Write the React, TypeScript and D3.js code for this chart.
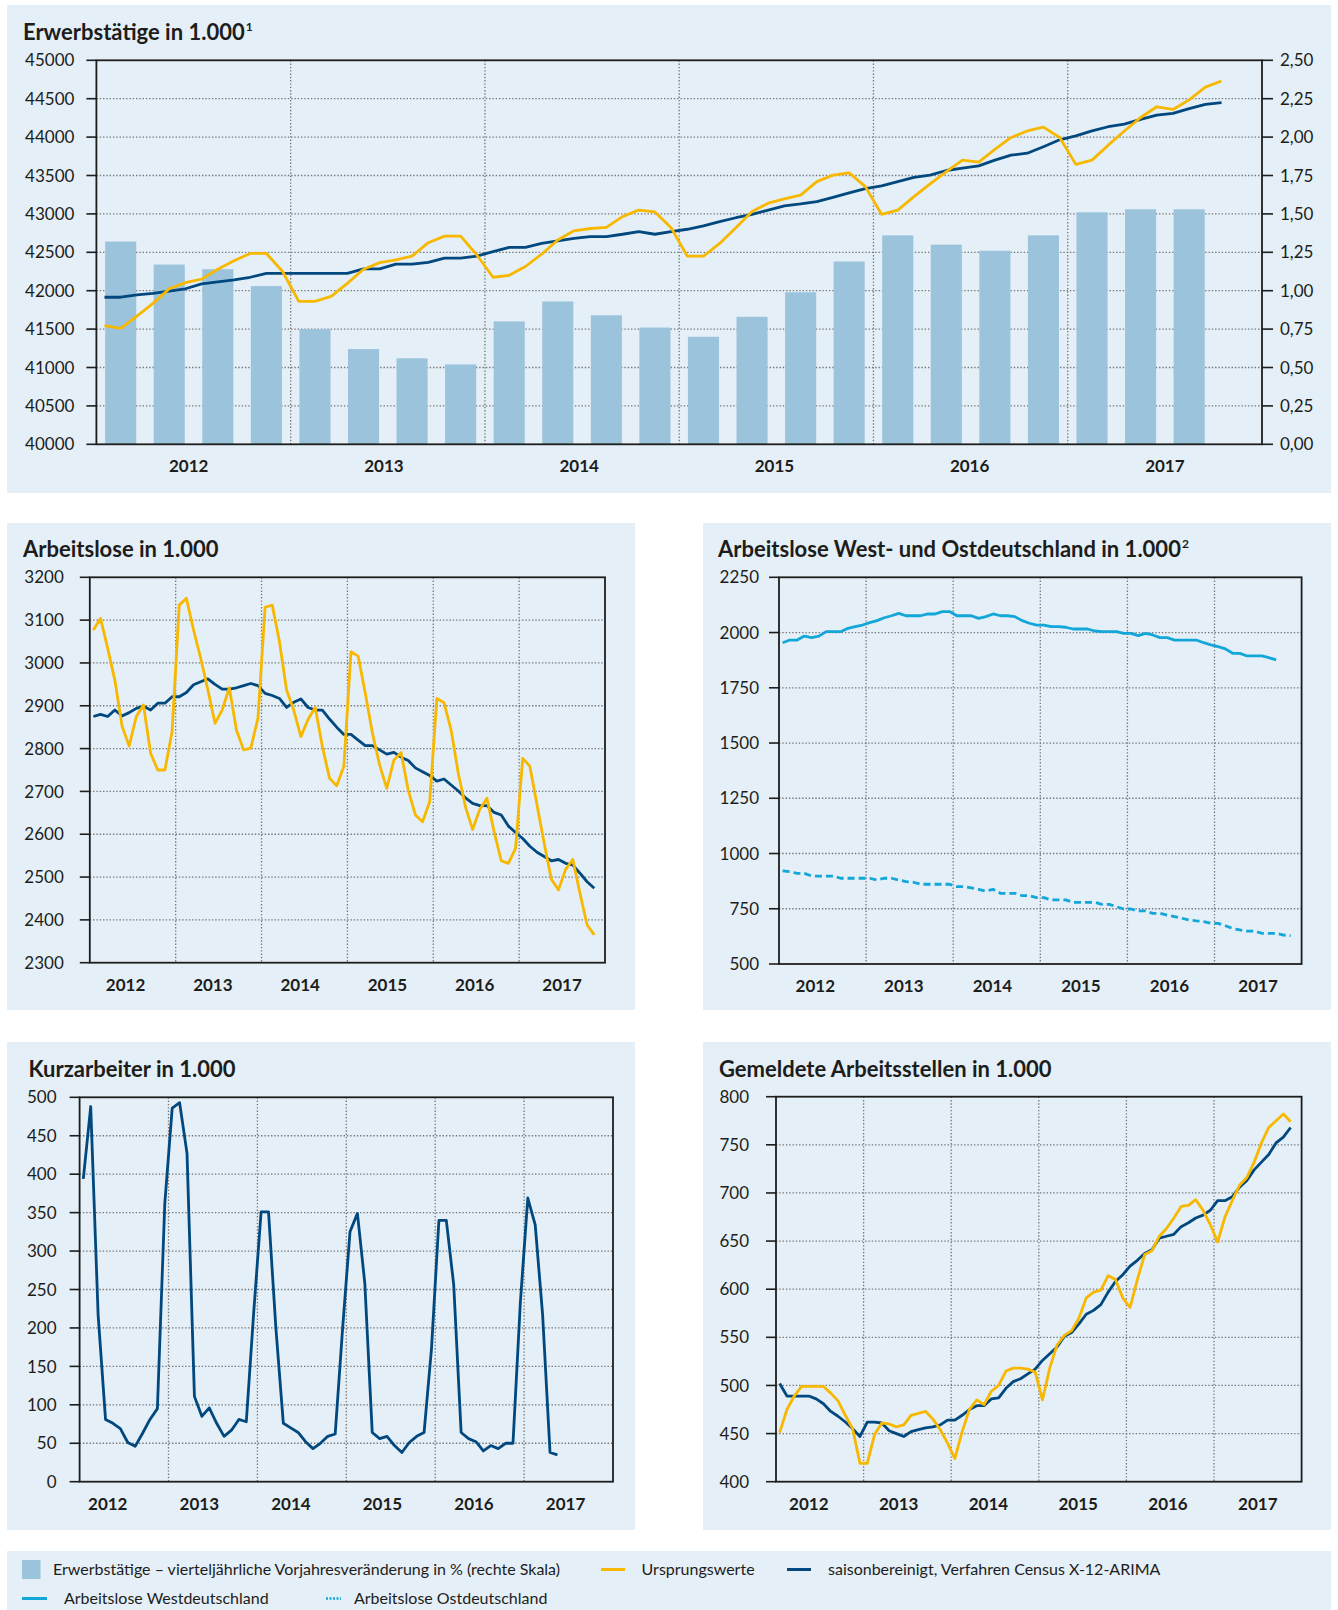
import React, { useRef, useEffect } from 'react';
import * as d3 from 'd3';

// ---- data (monthly series start Jan 2012, bars are quarters from 2012 Q1) ----
const years = ['2012', '2013', '2014', '2015', '2016', '2017'];

const erwerbQuarterPct = [1.32, 1.17, 1.14, 1.03, 0.75, 0.62, 0.56, 0.52, 0.80, 0.93, 0.84, 0.76,
  0.70, 0.83, 0.99, 1.19, 1.36, 1.30, 1.26, 1.36, 1.51, 1.53, 1.53];

const erwerbOrig = [41545, 41510, 41670, 41835, 42025, 42105, 42150, 42280, 42390, 42485, 42485, 42250,
  41860, 41860, 41925, 42095, 42280, 42365, 42400, 42450, 42625, 42710, 42710, 42465,
  42175, 42200, 42315, 42475, 42660, 42780, 42810, 42825, 42965, 43050, 43025, 42820,
  42450, 42450, 42615, 42820, 43030, 43140, 43195, 43245, 43420, 43505, 43535, 43355,
  42995, 43050, 43225, 43390, 43550, 43700, 43675, 43840, 43995, 44080, 44130, 43995,
  43645, 43700, 43895, 44080, 44255, 44395, 44360, 44485, 44650, 44730];

const erwerbSA = [41915, 41915, 41945, 41965, 41995, 42025, 42090, 42115, 42140, 42175, 42225, 42225,
  42225, 42225, 42225, 42225, 42285, 42285, 42345, 42345, 42370, 42425, 42425, 42450,
  42510, 42565, 42565, 42615, 42650, 42680, 42705, 42705, 42735, 42770, 42735, 42770,
  42800, 42845, 42900, 42950, 42995, 43050, 43105, 43130, 43160, 43215, 43275, 43330,
  43365, 43420, 43475, 43505, 43565, 43595, 43625, 43700, 43765, 43790, 43875, 43965,
  44015, 44080, 44135, 44170, 44230, 44285, 44310, 44370, 44425, 44450];

const arbeitslosOrig = [3077, 3104, 3034, 2960, 2853, 2806, 2875, 2902, 2789, 2750, 2750, 2840,
  3135, 3151, 3077, 3011, 2937, 2859, 2890, 2942, 2843, 2797, 2801, 2871,
  3130, 3135, 3050, 2937, 2890, 2828, 2868, 2896, 2805, 2731, 2713, 2758,
  3026, 3016, 2929, 2836, 2762, 2707, 2773, 2791, 2703, 2645, 2629, 2676,
  2917, 2907, 2843, 2742, 2664, 2611, 2658, 2684, 2606, 2538, 2532, 2567,
  2777, 2759, 2668, 2579, 2495, 2470, 2518, 2541, 2462, 2388, 2365];

const arbeitslosSA = [2875, 2880, 2875, 2890, 2876, 2884, 2894, 2899, 2890, 2906, 2906, 2921,
  2921, 2931, 2949, 2956, 2963, 2950, 2939, 2939, 2942, 2947, 2952, 2947,
  2929, 2924, 2917, 2896, 2908, 2916, 2896, 2890, 2890, 2869, 2850, 2833,
  2833, 2820, 2807, 2807, 2797, 2787, 2791, 2780, 2772, 2755, 2746, 2737,
  2724, 2729, 2715, 2701, 2685, 2672, 2667, 2667, 2651, 2645, 2619, 2604,
  2590, 2572, 2558, 2548, 2538, 2541, 2532, 2528, 2509, 2489, 2474];

const arbeitslosWest = [1954, 1966, 1966, 1984, 1977, 1984, 2004, 2004, 2004, 2019, 2027, 2034,
  2045, 2054, 2067, 2076, 2087, 2076, 2076, 2076, 2084, 2084, 2095, 2095,
  2076, 2076, 2076, 2064, 2072, 2084, 2076, 2076, 2072, 2054, 2042, 2034,
  2034, 2027, 2027, 2024, 2016, 2016, 2016, 2007, 2004, 2004, 2004, 1996,
  1996, 1986, 1996, 1989, 1977, 1977, 1966, 1966, 1966, 1966, 1954, 1944,
  1936, 1926, 1906, 1906, 1894, 1894, 1894, 1886, 1876];

const arbeitslosOst = [921, 918, 910, 910, 898, 898, 898, 898, 888, 888, 888, 888,
  888, 880, 888, 888, 880, 873, 870, 861, 861, 861, 861, 861,
  850, 850, 845, 838, 830, 838, 820, 820, 820, 809, 809, 800,
  800, 790, 790, 790, 779, 779, 779, 779, 770, 770, 759, 749,
  749, 740, 740, 729, 729, 721, 714, 707, 699, 695, 692, 684,
  684, 673, 661, 654, 649, 649, 639, 639, 639, 631, 628];

const kurzarbeiter = [394, 488, 217, 81, 76, 69, 51, 46, 63, 81, 95, 362,
  486, 493, 427, 111, 85, 96, 76, 59, 67, 81, 78, 220,
  351, 351, 199, 76, 70, 64, 52, 43, 50, 59, 62, 199,
  325, 349, 258, 64, 56, 59, 47, 38, 51, 59, 64, 173,
  340, 340, 256, 64, 56, 52, 40, 47, 43, 50, 50, 234,
  369, 334, 217, 38, 35];

const stellenOrig = [451, 475, 489, 499, 499, 499, 499, 492, 484, 469, 455, 419,
  419, 449, 461, 460, 457, 459, 469, 471, 473, 465, 454, 440,
  424, 452, 475, 485, 480, 494, 500, 515, 518, 518, 517, 514,
  485, 518, 542, 552, 557, 570, 591, 597, 599, 614, 610, 591,
  581, 610, 636, 640, 655, 663, 674, 686, 687, 693, 682, 667,
  649, 675, 692, 708, 716, 732, 752, 768, 775, 782, 774];

const stellenSA = [502, 489, 489, 489, 489, 486, 481, 473, 468, 462, 455, 447,
  462, 462, 461, 453, 450, 447, 452, 454, 456, 457, 459, 464,
  464, 469, 475, 479, 479, 486, 487, 497, 504, 507, 512, 517,
  526, 533, 540, 551, 555, 564, 574, 578, 584, 597, 608, 615,
  624, 630, 637, 641, 653, 655, 657, 665, 669, 674, 677, 682,
  692, 692, 696, 706, 713, 724, 732, 740, 752, 758, 768];

const FONT = 'Lato, "Noto Sans", sans-serif';
const C = {
  bg: '#e4eff7',
  bar: '#9cc3dc',
  yellow: '#f8b800',
  navy: '#00487e',
  cyan: '#12a6d9',
  grid: '#777',
  axis: '#1d1d1b',
  text: '#1d1d1b',
};

const panels = [
  {
    box: [7, 5, 1331, 493], plot: [96.4, 60.3, 1262, 444.3],
    title: 'Erwerbstätige in 1.000', sup: '1', titleX: 23, titleY: 40,
    yDomain: [40000, 45000], yStep: 500, labelGap: 22, yearSpan: [5.7, 66],
    bars: erwerbQuarterPct, y2Domain: [0, 2.5], y2Step: 0.25,
    series: [
      { values: erwerbSA, color: C.navy },
      { values: erwerbOrig, color: C.yellow },
    ],
  },
  {
    box: [7, 523, 635, 1010], plot: [89.8, 577.3, 605, 962.7],
    title: 'Arbeitslose in 1.000', titleX: 23, titleY: 557,
    yDomain: [2300, 3200], yStep: 100, labelGap: 26, yearSpan: [5, 66],
    series: [
      { values: arbeitslosSA, color: C.navy },
      { values: arbeitslosOrig, color: C.yellow },
    ],
  },
  {
    box: [703, 523, 1331, 1010], plot: [779, 577.3, 1301.6, 964],
    title: 'Arbeitslose West- und Ostdeutschland in 1.000', sup: '2', titleX: 718, titleY: 557,
    yDomain: [500, 2250], yStep: 250, labelGap: 20, yearSpan: [5, 66],
    series: [
      { values: arbeitslosWest, color: C.cyan },
      { values: arbeitslosOst, color: C.cyan, dash: '7,4' },
    ],
  },
  {
    box: [7, 1042, 635, 1530], plot: [79.6, 1097.3, 613, 1481.7],
    title: 'Kurzarbeiter in 1.000', titleX: 28.6, titleY: 1077,
    yDomain: [0, 500], yStep: 50, labelGap: 23, yearSpan: [3.8, 65.6],
    series: [
      { values: kurzarbeiter, color: C.navy },
    ],
  },
  {
    box: [703, 1042, 1331, 1530], plot: [776, 1096.7, 1301.6, 1481.7],
    title: 'Gemeldete Arbeitsstellen in 1.000', titleX: 719, titleY: 1077,
    yDomain: [400, 800], yStep: 50, labelGap: 27, yearSpan: [4.5, 66],
    series: [
      { values: stellenSA, color: C.navy },
      { values: stellenOrig, color: C.yellow },
    ],
  },
];

function drawPanel(root, p) {
  const g = root.append('g');
  const [bx0, by0, bx1, by1] = p.box;
  g.append('rect')
    .attr('x', bx0).attr('y', by0)
    .attr('width', bx1 - bx0).attr('height', by1 - by0)
    .attr('fill', C.bg);

  const [x0, y0, x1, y1] = p.plot;
  const x = d3.scaleLinear().domain([0, 72]).range([x0, x1]);
  const y = d3.scaleLinear().domain(p.yDomain).range([y1, y0]);
  const ticks = d3.range(p.yDomain[0], p.yDomain[1] + p.yStep / 2, p.yStep);

  // title
  const t = g.append('text')
    .attr('x', p.titleX).attr('y', p.titleY)
    .attr('font-family', FONT).attr('font-weight', 700)
    .attr('font-size', 22).attr('fill', C.text)
    .text(p.title);
  if (p.sup) {
    t.append('tspan').attr('font-size', 12).attr('dy', -9).attr('dx', 1).text(p.sup);
  }

  // dotted grid
  g.selectAll('line.hgrid')
    .data(ticks.slice(1, -1))
    .join('line')
    .attr('x1', x0).attr('x2', x1)
    .attr('y1', d => y(d)).attr('y2', d => y(d))
    .attr('stroke', C.grid).attr('stroke-width', 1.3)
    .attr('stroke-dasharray', '1.4,1.9');

  g.selectAll('line.vgrid')
    .data([12, 24, 36, 48, 60])
    .join('line')
    .attr('x1', d => x(d)).attr('x2', d => x(d))
    .attr('y1', y0).attr('y2', y1)
    .attr('stroke', C.grid).attr('stroke-width', 1.3)
    .attr('stroke-dasharray', '1.4,1.9');

  // bars on the right scale
  if (p.bars) {
    const y2 = d3.scaleLinear().domain(p.y2Domain).range([y1, y0]);
    const band = d3.scaleBand()
      .domain(d3.range(24))
      .range([x0, x1])
      .paddingInner(0.36).paddingOuter(0.18);
    g.selectAll('rect.bar')
      .data(p.bars)
      .join('rect')
      .attr('x', (d, i) => band(i))
      .attr('width', band.bandwidth())
      .attr('y', d => y2(d))
      .attr('height', d => y1 - y2(d))
      .attr('fill', C.bar);

    const rticks = d3.range(p.y2Domain[0], p.y2Domain[1] + p.y2Step / 2, p.y2Step);
    g.selectAll('line.rtick')
      .data(rticks)
      .join('line')
      .attr('x1', x1).attr('x2', x1 + 11)
      .attr('y1', d => y2(d)).attr('y2', d => y2(d))
      .attr('stroke', C.axis).attr('stroke-width', 1.6);
    g.selectAll('text.rlab')
      .data(rticks)
      .join('text')
      .attr('x', x1 + 18)
      .attr('y', d => y2(d))
      .attr('dy', '0.36em')
      .attr('font-family', FONT).attr('font-size', 17).attr('fill', C.text)
      .text(d => d3.format('.2f')(d).replace('.', ','));
  }

  // lines
  p.series.forEach(s => {
    const line = d3.line()
      .x((d, i) => x(i + 0.5))
      .y(d => y(d));
    g.append('path')
      .datum(s.values)
      .attr('d', line)
      .attr('fill', 'none')
      .attr('stroke', s.color)
      .attr('stroke-width', 2.8)
      .attr('stroke-linejoin', 'round')
      .attr('stroke-dasharray', s.dash || null);
  });

  // frame
  g.append('rect')
    .attr('x', x0).attr('y', y0)
    .attr('width', x1 - x0).attr('height', y1 - y0)
    .attr('fill', 'none').attr('stroke', C.axis).attr('stroke-width', 1.8);

  // left ticks and labels
  g.selectAll('line.ltick')
    .data(ticks)
    .join('line')
    .attr('x1', x0 - 10).attr('x2', x0)
    .attr('y1', d => y(d)).attr('y2', d => y(d))
    .attr('stroke', C.axis).attr('stroke-width', 1.6);
  g.selectAll('text.llab')
    .data(ticks)
    .join('text')
    .attr('x', x0 - p.labelGap)
    .attr('y', d => y(d))
    .attr('dy', '0.36em')
    .attr('text-anchor', 'end')
    .attr('font-family', FONT).attr('font-size', 17).attr('fill', C.text)
    .text(d => d);

  // year labels
  const yearPos = d3.scalePoint().domain(years).range([x(p.yearSpan[0]), x(p.yearSpan[1])]);
  g.selectAll('text.year')
    .data(years)
    .join('text')
    .attr('x', d => yearPos(d))
    .attr('y', y1 + 28)
    .attr('text-anchor', 'middle')
    .attr('font-family', FONT).attr('font-weight', 700)
    .attr('font-size', 17).attr('fill', C.text)
    .text(d => d);
}

function drawLegend(root) {
  const g = root.append('g').attr('font-family', FONT).attr('font-size', 16).attr('fill', C.text);
  g.append('rect').attr('x', 7).attr('y', 1551).attr('width', 1324).attr('height', 59).attr('fill', C.bg);

  g.append('rect').attr('x', 22).attr('y', 1560).attr('width', 18.5).attr('height', 19).attr('fill', C.bar);
  g.append('text').attr('x', 53).attr('y', 1575)
    .text('Erwerbstätige – vierteljährliche Vorjahresveränderung in % (rechte Skala)');

  g.append('line').attr('x1', 601).attr('x2', 625).attr('y1', 1569.5).attr('y2', 1569.5)
    .attr('stroke', C.yellow).attr('stroke-width', 3);
  g.append('text').attr('x', 641.6).attr('y', 1575).text('Ursprungswerte');

  g.append('line').attr('x1', 787).attr('x2', 811).attr('y1', 1569.5).attr('y2', 1569.5)
    .attr('stroke', C.navy).attr('stroke-width', 3);
  g.append('text').attr('x', 828).attr('y', 1575).text('saisonbereinigt, Verfahren Census X-12-ARIMA');

  g.append('line').attr('x1', 22).attr('x2', 47).attr('y1', 1598.5).attr('y2', 1598.5)
    .attr('stroke', C.cyan).attr('stroke-width', 3);
  g.append('text').attr('x', 64).attr('y', 1604).text('Arbeitslose Westdeutschland');

  g.append('line').attr('x1', 326).attr('x2', 341).attr('y1', 1598.5).attr('y2', 1598.5)
    .attr('stroke', C.cyan).attr('stroke-width', 2.5).attr('stroke-dasharray', '2,1.5');
  g.append('text').attr('x', 354).attr('y', 1604).text('Arbeitslose Ostdeutschland');
}

const App = () => {
  const svgRef = useRef(null);

  useEffect(() => {
    const svg = d3.select(svgRef.current);
    svg.selectAll('*').remove();
    svg.append('rect').attr('width', 1338).attr('height', 1610).attr('fill', '#fff');
    panels.forEach(p => drawPanel(svg, p));
    drawLegend(svg);
  }, []);

  return (
    <div style={{ position: 'absolute', left: 0, top: 0 }}>
      <svg ref={svgRef} width={1338} height={1610} style={{ display: 'block' }}></svg>
    </div>
  );
};

export default App;
